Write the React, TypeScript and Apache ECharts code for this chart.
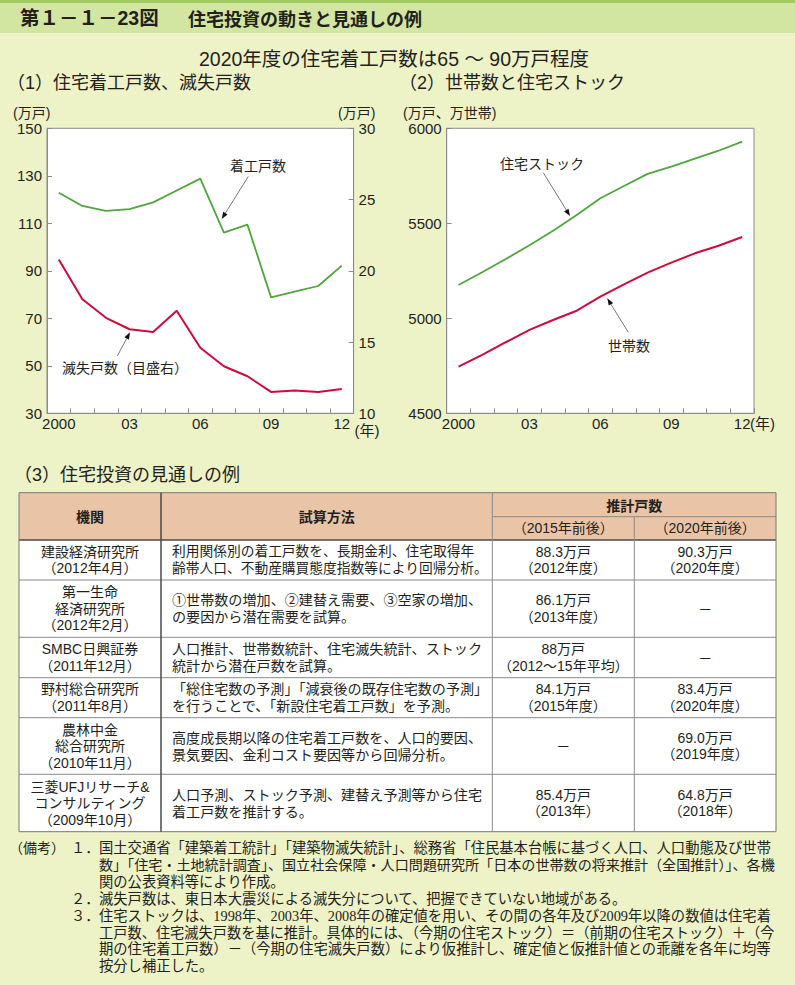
import React, { useEffect, useRef } from 'react';
import * as echarts from 'echarts';

// ---------- data ----------
const years = ['2000', '01', '02', '03', '04', '05', '06', '07', '08', '09', '10', '11', '12'];
const housingStarts = [122.9, 117.3, 115.2, 116.0, 118.8, 123.8, 128.8, 106.1, 109.4, 78.8, 81.2, 83.6, 92.2];
const demolitions = [20.8, 18.0, 16.7, 15.9, 15.7, 17.2, 14.6, 13.3, 12.6, 11.5, 11.6, 11.5, 11.7];
const housingStock = [5175, 5242, 5312, 5384, 5461, 5544, 5632, 5696, 5760, 5798, 5840, 5882, 5930];
const households = [4746, 4807, 4874, 4939, 4991, 5040, 5114, 5179, 5240, 5293, 5342, 5382, 5428];

const leftAxisRange = [30, 150, 20];
const rightAxisRange = [10, 30, 5];
const stockAxisRange = [4500, 6000, 500];

const tableHeader = ['機関', '試算方法', '推計戸数', '（2015年前後）', '（2020年前後）'];
const orgs = [
  '建設経済研究所\n（2012年4月）',
  '第一生命\n経済研究所\n（2012年2月）',
  'SMBC日興証券\n（2011年12月）',
  '野村総合研究所\n（2011年8月）',
  '農林中金\n総合研究所\n（2010年11月）',
  '三菱UFJリサーチ&\nコンサルティング\n（2009年10月）',
];
const methods = [
  ['利用関係別の着工戸数を、長期金利、住宅取得年', '齢帯人口、不動産購買態度指数等により回帰分析。'],
  ['①世帯数の増加、②建替え需要、③空家の増加、', 'の要因から潜在需要を試算。'],
  ['人口推計、世帯数統計、住宅滅失統計、ストック', '統計から潜在戸数を試算。'],
  ['「総住宅数の予測」「減衰後の既存住宅数の予測」', 'を行うことで、「新設住宅着工戸数」を予測。'],
  ['高度成長期以降の住宅着工戸数を、人口的要因、', '景気要因、金利コスト要因等から回帰分析。'],
  ['人口予測、ストック予測、建替え予測等から住宅', '着工戸数を推計する。'],
];
const est2015 = [
  '88.3万戸\n（2012年度）',
  '86.1万戸\n（2013年度）',
  '88万戸\n（2012～15年平均）',
  '84.1万戸\n（2015年度）',
  '－',
  '85.4万戸\n（2013年）',
];
const est2020 = [
  '90.3万戸\n（2020年度）',
  '－',
  '－',
  '83.4万戸\n（2020年度）',
  '69.0万戸\n（2019年度）',
  '64.8万戸\n（2018年）',
];

const notes = [
  {
    label: '（備考）',
    num: '１．',
    lines: [
      '国土交通省「建築着工統計」「建築物滅失統計」、総務省「住民基本台帳に基づく人口、人口動態及び世帯',
      '数」「住宅・土地統計調査」、国立社会保障・人口問題研究所「日本の世帯数の将来推計（全国推計）」、各機',
      '関の公表資料等により作成。',
    ],
  },
  {
    label: '',
    num: '２．',
    lines: ['滅失戸数は、東日本大震災による滅失分について、把握できていない地域がある。'],
  },
  {
    label: '',
    num: '３．',
    lines: [
      '住宅ストックは、1998年、2003年、2008年の確定値を用い、その間の各年及び2009年以降の数値は住宅着',
      '工戸数、住宅滅失戸数を基に推計。具体的には、（今期の住宅ストック）＝（前期の住宅ストック）＋（今',
      '期の住宅着工戸数）－（今期の住宅滅失戸数）により仮推計し、確定値と仮推計値との乖離を各年に均等',
      '按分し補正した。',
    ],
  },
];

// ---------- styles ----------
const SANS = "'Liberation Sans', 'Noto Sans CJK JP', sans-serif";
const JP = "'Noto Sans CJK JP', sans-serif";
const SERIF = "'Liberation Serif', 'Noto Sans CJK JP', serif";
const INK = '#231f1c';
const AXIS = '#8c8c8c';
const GREEN = '#4fa63c';
const RED = '#d20a3c';

let measureCtx: CanvasRenderingContext2D | null = null;
function measure(text: string, size: number, family: string, weight = 'normal') {
  if (!measureCtx) measureCtx = document.createElement('canvas').getContext('2d');
  if (!measureCtx) return text.length * size;
  measureCtx.font = `${weight} ${size}px ${family}`;
  return measureCtx.measureText(text).width;
}
function fitSize(lines: string[], base: number, maxW: number, family: string, weight = 'normal') {
  let s = base;
  lines.forEach((l) => {
    const w = measure(l, base, family, weight);
    if (w > maxW) s = Math.min(s, (base * maxW) / w);
  });
  return s;
}

function txt(text: string, x: number, y: number, o: any = {}) {
  return {
    type: 'text',
    x,
    y,
    z: 100,
    silent: true,
    style: {
      text,
      fill: o.fill ?? INK,
      fontSize: o.size ?? 14,
      fontFamily: o.family ?? SANS,
      fontWeight: o.weight ?? 'normal',
      textAlign: o.align ?? 'left',
      textVerticalAlign: 'middle',
      lineHeight: o.lh ?? undefined,
    },
  };
}
function ln(x1: number, y1: number, x2: number, y2: number, stroke: string, lineWidth = 1) {
  return { type: 'line', z: 50, silent: true, shape: { x1, y1, x2, y2 }, style: { stroke, lineWidth } };
}
function arrow(x1: number, y1: number, x2: number, y2: number) {
  const dx = x2 - x1;
  const dy = y2 - y1;
  const L = Math.hypot(dx, dy);
  const ux = dx / L;
  const uy = dy / L;
  const hl = 7;
  const hw = 2.6;
  const bx = x2 - ux * hl;
  const by = y2 - uy * hl;
  return [
    { type: 'line', z: 100, silent: true, shape: { x1, y1, x2: bx, y2: by }, style: { stroke: '#555', lineWidth: 0.8 } },
    {
      type: 'polygon',
      z: 100,
      silent: true,
      shape: { points: [[x2, y2], [bx - uy * hw, by + ux * hw], [bx + uy * hw, by - ux * hw]] },
      style: { fill: '#111' },
    },
  ];
}

function buildOption() {
  const g: any[] = [];
  // title bar
  g.push({ type: 'rect', z: 1, silent: true, shape: { x: 0, y: 0, width: 795, height: 33 }, style: { fill: '#d3e6a1' } });
  g.push({ type: 'rect', z: 2, silent: true, shape: { x: 0, y: 0, width: 795, height: 3 }, style: { fill: '#a3cb62' } });
  g.push(txt('第１－１－23図', 20, 17.5, { size: 19.5, weight: 'bold' }));
  g.push(txt('住宅投資の動きと見通しの例', 188, 17.5, { size: 18, weight: 'bold', family: JP }));
  g.push(txt('2020年度の住宅着工戸数は65 ～ 90万戸程度', 394, 59, { size: 19.5, align: 'center' }));
  g.push(txt('（1）住宅着工戸数、滅失戸数', 7, 83, { size: 18 }));
  g.push(txt('（2）世帯数と住宅ストック', 399, 83, { size: 18 }));
  g.push(txt('（3）住宅投資の見通しの例', 14, 475, { size: 18 }));

  // axis names
  g.push(txt('(万戸)', 13, 113, { size: 14 }));
  g.push(txt('(万戸)', 338, 113, { size: 14 }));
  g.push(txt('(年)', 367, 430, { size: 15, align: 'center' }));
  g.push(txt('(万戸、万世帯)', 403, 113, { size: 14 }));
  g.push(txt('(年)', 750, 423, { size: 15 }));

  // annotations
  g.push(txt('着工戸数', 230, 165, { size: 14, family: JP }));
  g.push(...arrow(248.3, 176.5, 221.7, 219));
  g.push(txt('滅失戸数（目盛右）', 62, 367, { size: 14, family: JP }));
  g.push(...arrow(117.3, 356, 130, 332.3));
  g.push(txt('住宅ストック', 500, 163, { size: 14, family: JP }));
  g.push(...arrow(543.3, 172.7, 570, 216));
  g.push(txt('世帯数', 608, 344.5, { size: 14, family: JP }));
  g.push(...arrow(628.3, 332.3, 607.3, 298.3));

  // table
  const cx = [19, 161, 492.3, 634.3, 776];
  const ry = [492.7, 516.7, 540, 580, 637.3, 677.7, 717.7, 774.3, 831.7];
  g.push({ type: 'rect', z: 10, silent: true, shape: { x: cx[0], y: ry[0], width: cx[4] - cx[0], height: ry[2] - ry[0] }, style: { fill: '#eac4a7' } });
  g.push({ type: 'rect', z: 10, silent: true, shape: { x: cx[0], y: ry[2], width: cx[4] - cx[0], height: ry[8] - ry[2] }, style: { fill: '#ffffff' } });
  const GRID_C = '#8a8a8a';
  const DARK_C = '#4a4a4a';
  g.push(ln(cx[0], ry[0], cx[4], ry[0], '#777', 1));
  g.push(ln(cx[2], ry[1], cx[4], ry[1], GRID_C, 1));
  g.push(ln(cx[0], ry[2], cx[4], ry[2], DARK_C, 1.5));
  for (let i = 3; i < 8; i++) g.push(ln(cx[0], ry[i], cx[4], ry[i], GRID_C, 1));
  g.push(ln(cx[0], ry[8], cx[4], ry[8], '#777', 1));
  g.push(ln(cx[0], ry[0], cx[0], ry[8], '#777', 1));
  g.push(ln(cx[1], ry[0], cx[1], ry[8], DARK_C, 1.5));
  g.push(ln(cx[2], ry[0], cx[2], ry[8], GRID_C, 1));
  g.push(ln(cx[3], ry[1], cx[3], ry[8], GRID_C, 1));
  g.push(ln(cx[4], ry[0], cx[4], ry[8], '#777', 1));

  const hy = (ry[0] + ry[2]) / 2;
  g.push(txt(tableHeader[0], (cx[0] + cx[1]) / 2, hy, { size: 14, weight: 'bold', align: 'center', family: JP }));
  g.push(txt(tableHeader[1], (cx[1] + cx[2]) / 2, hy, { size: 14, weight: 'bold', align: 'center', family: JP }));
  g.push(txt(tableHeader[2], (cx[2] + cx[4]) / 2, (ry[0] + ry[1]) / 2 + 0.5, { size: 14, weight: 'bold', align: 'center', family: JP }));
  g.push(txt(tableHeader[3], (cx[2] + cx[3]) / 2, (ry[1] + ry[2]) / 2, { size: 14, align: 'center' }));
  g.push(txt(tableHeader[4], (cx[3] + cx[4]) / 2, (ry[1] + ry[2]) / 2, { size: 14, align: 'center' }));

  const LH = 16.5;
  orgs.forEach((o, i) => {
    const cy = (ry[i + 2] + ry[i + 3]) / 2;
    g.push(txt(o, (cx[0] + cx[1]) / 2, cy, { size: 14, align: 'center', lh: LH }));
    const ms = fitSize(methods[i], 14.1, 316, SANS);
    g.push(txt(methods[i].join('\n'), 172, cy, { size: ms, family: SANS, lh: 17 }));
    g.push(txt(est2015[i], (cx[2] + cx[3]) / 2, cy, { size: 14, align: 'center', lh: LH }));
    g.push(txt(est2020[i], (cx[3] + cx[4]) / 2, cy, { size: 14, align: 'center', lh: LH }));
  });

  // notes
  let line = 0;
  const ny0 = 848;
  const nstep = 16.9;
  notes.forEach((n) => {
    const y = ny0 + line * nstep;
    if (n.label) g.push(txt(n.label, 9, y, { size: 14, family: SERIF }));
    g.push(txt(n.num, 71, y, { size: 14.3, family: SERIF }));
    n.lines.forEach((l) => {
      const s = fitSize([l], 14.3, 676, SERIF);
      g.push(txt(l, 99, ny0 + line * nstep, { size: s, family: SERIF }));
      line++;
    });
  });

  const xAxis = (gi: number) => ({
    type: 'category',
    gridIndex: gi,
    data: years,
    boundaryGap: true,
    axisLine: { show: true, lineStyle: { color: AXIS, width: 1 } },
    axisTick: { show: true, inside: true, length: 5, interval: 0, lineStyle: { color: AXIS } },
    axisLabel: { interval: 2, color: INK, fontSize: 15, fontFamily: SANS, margin: 3 },
    splitLine: { show: false },
  });
  const yAxis = (gi: number, r: number[], position: string) => ({
    type: 'value',
    gridIndex: gi,
    min: r[0],
    max: r[1],
    interval: r[2],
    position,
    axisLine: { show: true, onZero: false, lineStyle: { color: AXIS, width: 1 } },
    axisTick: { show: true, inside: true, length: 5, lineStyle: { color: AXIS } },
    axisLabel: { color: INK, fontSize: 15, fontFamily: SANS, margin: 5, formatter: (v: number) => String(v) },
    splitLine: { show: false },
  });

  return {
    animation: false,
    backgroundColor: '#eef2c7',
    grid: [
      { left: 47, top: 128.3, width: 306.6, height: 285, show: true, backgroundColor: '#ffffff', borderColor: AXIS, borderWidth: 1 },
      { left: 446.7, top: 128.3, width: 307.3, height: 285, show: true, backgroundColor: '#ffffff', borderColor: AXIS, borderWidth: 1 },
    ],
    xAxis: [xAxis(0), xAxis(1)],
    yAxis: [yAxis(0, leftAxisRange, 'left'), yAxis(0, rightAxisRange, 'right'), yAxis(1, stockAxisRange, 'left')],
    series: [
      { type: 'line', name: '着工戸数', xAxisIndex: 0, yAxisIndex: 0, data: housingStarts, symbol: 'none', lineStyle: { color: GREEN, width: 1.8 }, itemStyle: { color: GREEN } },
      { type: 'line', name: '滅失戸数', xAxisIndex: 0, yAxisIndex: 1, data: demolitions, symbol: 'none', lineStyle: { color: RED, width: 2 }, itemStyle: { color: RED } },
      { type: 'line', name: '住宅ストック', xAxisIndex: 1, yAxisIndex: 2, data: housingStock, symbol: 'none', lineStyle: { color: GREEN, width: 1.8 }, itemStyle: { color: GREEN } },
      { type: 'line', name: '世帯数', xAxisIndex: 1, yAxisIndex: 2, data: households, symbol: 'none', lineStyle: { color: RED, width: 2 }, itemStyle: { color: RED } },
    ],
    graphic: { elements: g },
  };
}

export default function App() {
  const ref = useRef<HTMLDivElement>(null);
  useEffect(() => {
    const el = ref.current;
    if (!el) return;
    const chart = echarts.init(el, undefined, { renderer: 'svg' });
    chart.setOption(buildOption() as any);
    return () => chart.dispose();
  }, []);
  return <div ref={ref} style={{ position: 'absolute', left: 0, top: 0, width: 795, height: 985 }} />;
}
